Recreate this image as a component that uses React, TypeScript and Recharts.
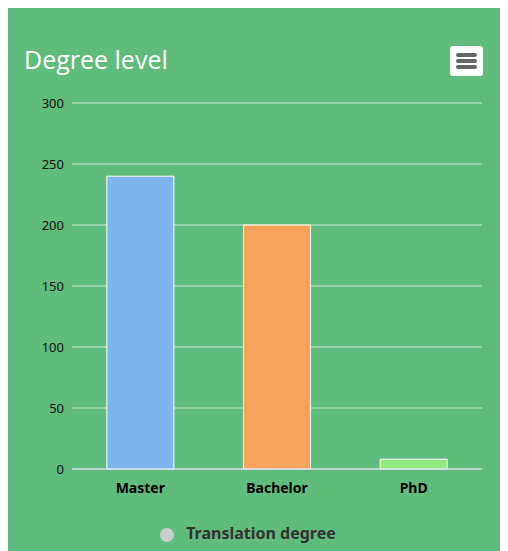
import { BarChart, Bar, XAxis, YAxis, CartesianGrid, Legend, Cell } from "recharts";

const categories = ["Master", "Bachelor", "PhD"];
const values = [240, 200, 8];
const barColors = ["#7cb5ec", "#f7a35c", "#90ed7d"];
const yTicks = [0, 50, 100, 150, 200, 250, 300];
const seriesName = "Translation degree";

const data = categories.map((name, i) => ({ name, value: values[i] }));

export default function App() {
  return (
    <div
      style={{
        position: "relative",
        margin: -1,
        width: 495,
        height: 546,
        background: "#60bc7c",
        fontFamily: "'Noto Sans', sans-serif",
      }}
    >
      {/* title */}
      <div
        style={{
          position: "absolute",
          left: 17,
          top: 35,
          color: "#ffffff",
          fontSize: 25,
          fontFamily: "'Open Sans', sans-serif",
          zIndex: 2,
        }}
      >
        Degree level
      </div>

      {/* menu button */}
      <div
        style={{
          position: "absolute",
          left: 443,
          top: 39,
          width: 33,
          height: 30,
          background: "#ffffff",
          borderRadius: 3,
          zIndex: 2,
        }}
      >
        {[8, 14, 20].map((t) => (
          <div
            key={t}
            style={{
              position: "absolute",
              left: 6,
              top: t - 1,
              width: 21,
              height: 4,
              borderRadius: 2,
              background: "#666666",
            }}
          />
        ))}
      </div>

      <BarChart
        width={495}
        height={544}
        data={data}
        margin={{ top: 96, right: 20, left: 17, bottom: 10 }}
        barCategoryGap="25.5%"
      >
        <CartesianGrid vertical={false} stroke="#cfe6d3" />
        <XAxis
          dataKey="name"
          tickLine={false}
          axisLine={{ stroke: "#ccd6eb" }}
          height={40}
          tick={{ fill: "#000000", fontSize: 14, fontWeight: 700 }}
          tickMargin={8}
        />
        <YAxis
          domain={[0, 300]}
          ticks={yTicks}
          width={48}
          axisLine={false}
          tickLine={false}
          tick={{ fill: "#111111", fontSize: 13 }}
          tickMargin={2}
        />
        <Legend
          verticalAlign="bottom"
          height={32}
          iconType="circle"
          iconSize={14}
          wrapperStyle={{ bottom: -3 }}
          formatter={(v) => (
            <span style={{ color: "#333333", fontWeight: 700, fontSize: 16, marginLeft: 8 }}>{v}</span>
          )}
        />
        <Bar
          dataKey="value"
          name={seriesName}
          fill="#cccccc"
          stroke="#ffffff"
          strokeWidth={1}
          isAnimationActive={false}
        >
          {data.map((d, i) => (
            <Cell key={d.name} fill={barColors[i]} />
          ))}
        </Bar>
      </BarChart>
    </div>
  );
}
